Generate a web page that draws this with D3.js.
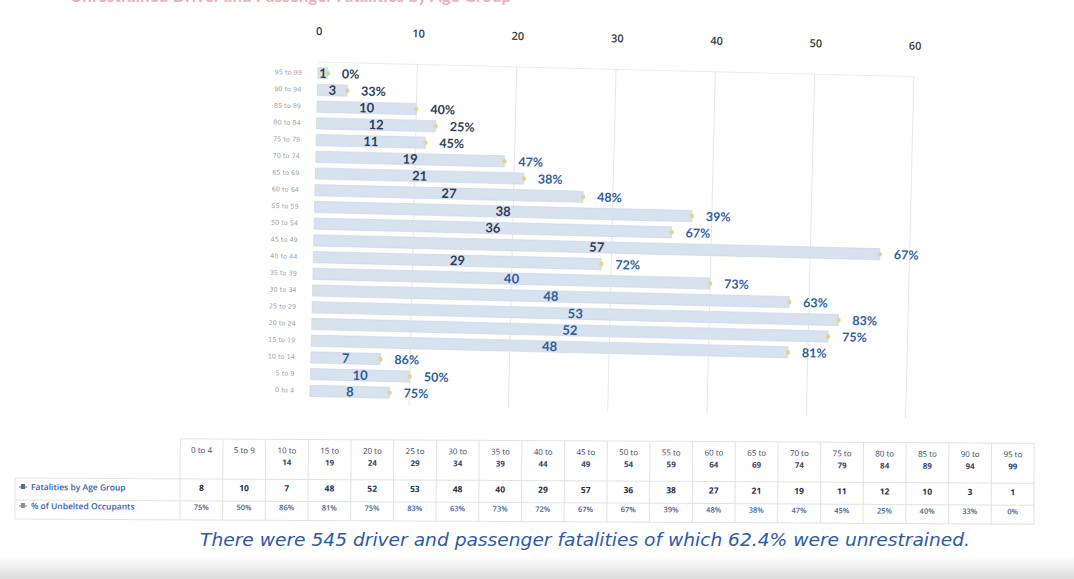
<!DOCTYPE html>
<html>
<head>
<meta charset="utf-8">
<script src="https://cdn.jsdelivr.net/npm/d3@7"></script>
<style>
  body { margin: 0; background: #ffffff; }
  svg { display: block; }
</style>
</head>
<body>
<svg id="chart" width="1074" height="579"></svg>
<script>
// data (table order, youngest first)
const ageGroups = ["0 to 4","5 to 9","10 to 14","15 to 19","20 to 24","25 to 29","30 to 34","35 to 39","40 to 44","45 to 49",
                   "50 to 54","55 to 59","60 to 64","65 to 69","70 to 74","75 to 79","80 to 84","85 to 89","90 to 94","95 to 99"];
const fatalities = [8,10,7,48,52,53,48,40,29,57,36,38,27,21,19,11,12,10,3,1];
const unbelted = [75,50,86,81,75,83,63,73,72,67,67,39,48,38,47,45,25,40,33,0];
const xTicks = [0,10,20,30,40,50,60];
const rowLabels = ["Fatalities by Age Group","% of Unbelted Occupants"];
const footnote = "There were 545 driver and passenger fatalities of which 62.4% were unrestrained.";

const svg = d3.select("#chart");

// faint slide shadow at the bottom
const defs = svg.append("defs");
const grad = defs.append("linearGradient").attr("id","shade").attr("x1",0).attr("y1",0).attr("x2",0).attr("y2",1);
grad.append("stop").attr("offset","0%").attr("stop-color","#ffffff");
grad.append("stop").attr("offset","100%").attr("stop-color","#dcdcdc");
svg.append("rect").attr("x",0).attr("y",556).attr("width",1074).attr("height",23).attr("fill","url(#shade)");

// the cut off red title at the very top
svg.append("text")
    .attr("x",70).attr("y",2)
    .attr("font-family","Lato").attr("font-weight","bold").attr("font-size",17)
    .attr("fill","#eab0b8")
    .text("Unrestrained Driver and Passenger Fatalities by Age Group");

// chart part, photo is slightly tilted
const g = svg.append("g").attr("transform","rotate(1.4,314,230)");

const x = d3.scaleLinear().domain([0,60]).range([314,910]);
const y = d3.scaleBand().domain(ageGroups.slice().reverse()).range([62,402]).padding(0.33);

// gridlines
g.append("line").attr("x1",x(0)).attr("x2",x(60)).attr("y1",62).attr("y2",62)
    .attr("stroke","#ececec");
g.selectAll(".grid").data(xTicks.slice(1)).enter().append("line")
    .attr("class","grid")
    .attr("x1",d => x(d)).attr("x2",d => x(d))
    .attr("y1",62).attr("y2",404)
    .attr("stroke","#e8e8e8");

// top axis
const xAxis = g.append("g").attr("transform","translate(0,35)")
    .call(d3.axisTop(x).tickValues(xTicks).tickSize(0).tickPadding(0));
xAxis.select(".domain").remove();
xAxis.selectAll("text")
    .attr("font-family","Open Sans").attr("font-weight",600).attr("font-size",11)
    .attr("fill","#3a3a3a");

// left axis labels
const yAxis = g.append("g").attr("transform","translate(298,0)")
    .call(d3.axisLeft(y).tickSize(0).tickPadding(0));
yAxis.select(".domain").remove();
yAxis.selectAll("text")
    .attr("font-family","DejaVu Sans").attr("font-size",6.5)
    .attr("fill","#a0a0a0");

const rows = ageGroups.map((a,i) => ({age:a, n:fatalities[i], p:unbelted[i]}));

// bars
g.selectAll(".bar").data(rows).enter().append("rect")
    .attr("class","bar")
    .attr("x",x(0))
    .attr("y",d => y(d.age))
    .attr("width",d => x(d.n) - x(0))
    .attr("height",y.bandwidth())
    .attr("fill","#d8e2ee")
    .attr("stroke","#c6d4e5")
    .attr("stroke-width",0.6);

// markers at the bar ends
g.selectAll(".mark").data(rows).enter().append("circle")
    .attr("class","mark")
    .attr("cx",d => x(d.n))
    .attr("cy",d => y(d.age) + y.bandwidth()/2)
    .attr("r",2.3)
    .attr("fill","#dcd98c");

// value labels, centred in the bars
g.selectAll(".val").data(rows).enter().append("text")
    .attr("class","val")
    .attr("x",d => x(d.n/2))
    .attr("y",d => y(d.age) + y.bandwidth()/2 + 4.5)
    .attr("text-anchor","middle")
    .attr("font-family","Lato").attr("font-weight","bold").attr("font-size",13)
    .attr("fill",(d,i) => i < 8 ? "#2d5c9c" : "#2c3d5c")
    .text(d => d.n);

// percent labels after the bar ends
g.selectAll(".pct").data(rows).enter().append("text")
    .attr("class","pct")
    .attr("x",d => x(d.n) + 14)
    .attr("y",d => y(d.age) + y.bandwidth()/2 + 4.5)
    .attr("font-family","Lato").attr("font-weight","bold").attr("font-size",12.5)
    .attr("fill",(d,i) => i > 14 ? "#2f3e58" : "#2f5e9f")
    .text(d => d.p + "%");

// data table
const t = svg.append("g").attr("transform","rotate(0.3,600,490)");
const col = d3.scaleBand().domain(ageGroups).range([180,1034]);
const rowY = [493, 512];
const lineCol = "#e2e2e2";

// table grid
[481,503,522].forEach(yy => {
  t.append("line").attr("x1",15).attr("x2",1034).attr("y1",yy).attr("y2",yy).attr("stroke",lineCol);
});
t.selectAll(".vsep").data(ageGroups).enter().append("line")
    .attr("class","vsep")
    .attr("x1",d => col(d)).attr("x2",d => col(d))
    .attr("y1",441).attr("y2",522)
    .attr("stroke",lineCol);
t.append("line").attr("x1",1034).attr("x2",1034).attr("y1",441).attr("y2",522).attr("stroke",lineCol);
t.append("line").attr("x1",180).attr("x2",1034).attr("y1",441).attr("y2",441).attr("stroke",lineCol);
t.append("line").attr("x1",15).attr("x2",15).attr("y1",481).attr("y2",522).attr("stroke",lineCol);

// header labels
t.selectAll(".hd").data(ageGroups).enter().append("text")
    .attr("class","hd")
    .attr("x",d => col(d) + col.bandwidth()/2)
    .attr("y",455)
    .attr("text-anchor","middle")
    .attr("font-family","Open Sans").attr("font-size",8)
    .attr("fill","#34466a")
    .each(function(d,i) {
      const parts = d.split(" to ");
      const el = d3.select(this);
      if (i < 2) { el.text(d); return; }
      el.append("tspan").attr("x",col(d) + col.bandwidth()/2).text(parts[0] + " to");
      el.append("tspan").attr("x",col(d) + col.bandwidth()/2).attr("dy",12)
        .attr("font-weight","bold").text(parts[1]);
    });

// row labels with legend keys
rowLabels.forEach((lab,i) => {
  t.append("line").attr("x1",19).attr("x2",27).attr("y1",rowY[i]-3).attr("y2",rowY[i]-3)
      .attr("stroke",i == 0 ? "#9fb3cf" : "#c9c98a").attr("stroke-width",2);
  t.append("rect").attr("x",21).attr("y",rowY[i]-6).attr("width",4).attr("height",5)
      .attr("fill",i == 0 ? "#5d6d88" : "#8a8f9f");
  t.append("text").attr("x",31).attr("y",rowY[i])
      .attr("font-family","Open Sans").attr("font-weight",600).attr("font-size",8.5)
      .attr("fill","#3561a8")
      .text(lab);
});

// table values
t.selectAll(".tn").data(rows).enter().append("text")
    .attr("class","tn")
    .attr("x",d => col(d.age) + col.bandwidth()/2)
    .attr("y",rowY[0])
    .attr("text-anchor","middle")
    .attr("font-family","Open Sans").attr("font-weight","bold").attr("font-size",8.5)
    .attr("fill","#25324a")
    .text(d => d.n);

t.selectAll(".tp").data(rows).enter().append("text")
    .attr("class","tp")
    .attr("x",d => col(d.age) + col.bandwidth()/2)
    .attr("y",rowY[1])
    .attr("text-anchor","middle")
    .attr("font-family","Open Sans").attr("font-weight",600).attr("font-size",7.5)
    .attr("fill","#3b62a0")
    .text(d => d.p + "%");

// footnote
svg.append("text")
    .attr("x",585).attr("y",546)
    .attr("text-anchor","middle")
    .attr("font-family","DejaVu Sans").attr("font-style","italic").attr("font-size",17.5)
    .attr("textLength",770).attr("lengthAdjust","spacingAndGlyphs")
    .attr("fill","#2c5aa8")
    .text(footnote);
</script>
</body>
</html>
